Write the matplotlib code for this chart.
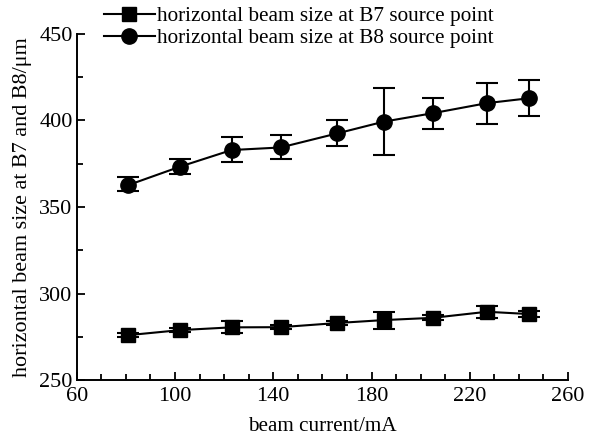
import matplotlib
matplotlib.use("Agg")
import matplotlib.pyplot as plt
from matplotlib.ticker import MultipleLocator

current = [81, 102, 123, 143, 166, 185, 205, 227, 244]
b7 = [276.0, 278.9, 280.5, 280.6, 283.0, 284.7, 286.0, 289.5, 288.2]
b7_err = [1.0, 1.0, 3.4, 1.0, 1.0, 4.9, 1.5, 3.5, 1.7]
b8 = [362.7, 373.3, 382.9, 384.4, 392.5, 399.3, 404.2, 410.0, 412.8]
b8_err_lo = [3.2, 4.2, 7.1, 6.6, 7.5, 19.5, 9.1, 11.9, 10.2]
b8_err_hi = [4.9, 4.4, 7.7, 7.4, 7.5, 19.7, 8.8, 11.9, 10.6]
x_ticks = [60, 100, 140, 180, 220, 260]
y_ticks = [250, 300, 350, 400, 450]

plt.rcParams['font.family'] = ['Liberation Serif', 'DejaVu Serif']

fig = plt.figure(figsize=(5.91, 4.40), dpi=100)
ax = fig.add_axes([0.130, 0.136, 0.831, 0.787])

l7 = ax.errorbar(current, b7, yerr=b7_err, color='black', marker='s', markersize=10.5,
                 lw=1.5, capsize=8, capthick=1.5, elinewidth=1.5,
                 label='horizontal beam size at B7 source point')
l8 = ax.errorbar(current, b8, yerr=[b8_err_lo, b8_err_hi], color='black', marker='o',
                 markersize=11, lw=1.5, capsize=8, capthick=1.5, elinewidth=1.5,
                 label='horizontal beam size at B8 source point')

ax.set_xlim(60, 260)
ax.set_ylim(250, 450)
ax.set_xticks(x_ticks)
ax.set_yticks(y_ticks)
ax.xaxis.set_minor_locator(MultipleLocator(10))
ax.yaxis.set_minor_locator(MultipleLocator(25))
ax.tick_params(which='both', direction='in', labelsize=16, width=1.3)
ax.tick_params(which='major', length=6)
ax.tick_params(which='minor', length=4)
ax.tick_params(axis='x', pad=5)
ax.tick_params(axis='y', pad=3)
ax.spines['top'].set_visible(False)
ax.spines['right'].set_visible(False)
for s in ('left', 'bottom'):
    ax.spines[s].set_linewidth(1.4)

ax.set_xlabel('beam current/mA', fontsize=15.2, labelpad=8)
ax.set_ylabel('horizontal beam size at B7 and B8/μm', fontsize=15.9, labelpad=5)

handles = [l7[0], l8[0]]
labels = [l7.get_label(), l8.get_label()]
fig.legend(handles, labels, loc='upper left', bbox_to_anchor=(0.154, 1.015),
           frameon=False, fontsize=15.3, handlelength=2.4, handletextpad=0.1,
           labelspacing=0.1, borderaxespad=0.2)

fig.savefig('out.png', dpi=100)
